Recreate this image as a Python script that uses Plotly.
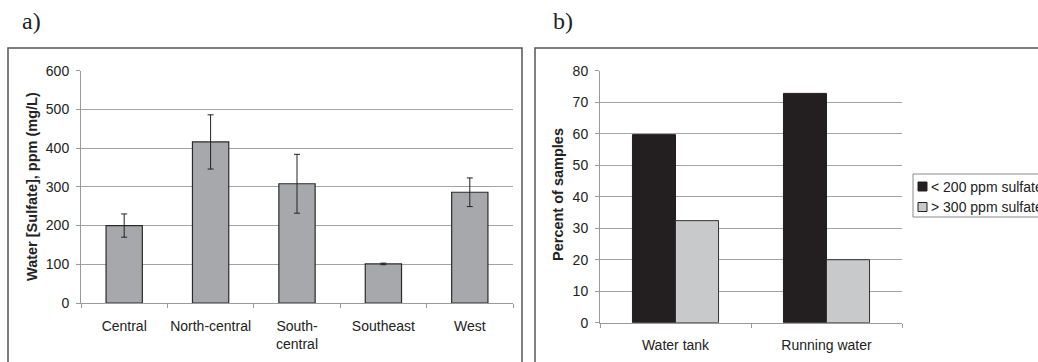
import plotly.graph_objects as go

# Panel a data
regions = ["Central", "North-central", "South-<br>central", "Southeast", "West"]
sulfate = [200, 416, 308, 101, 286]
sulfate_err = [30, 70, 76, 2, 37]

# Panel b data
sources = ["Water tank", "Running water"]
low_pct = [59.7, 72.8]
high_pct = [32.4, 20.0]
series_names = ["< 200 ppm sulfate", "> 300 ppm sulfate"]

W, H = 1038, 362
FONT = "Liberation Sans, Arial, sans-serif"
SERIF = "Liberation Serif, Times New Roman, serif"
COL_A = "#a7a8ab"
COL_LOW = "#231f20"
COL_HIGH = "#c8c9cb"

def px(x):
    return x / W

def py(y):
    return 1 - y / H

fig = go.Figure()

fig.add_trace(go.Bar(
    x=regions, y=sulfate, width=0.42,
    marker=dict(color=COL_A, line=dict(color="#2b2b2b", width=1.2)),
    error_y=dict(type="data", array=sulfate_err, color="#222", thickness=1, width=3),
    xaxis="x", yaxis="y", showlegend=False,
))

fig.add_trace(go.Bar(
    x=sources, y=low_pct, name=series_names[0],
    marker=dict(color=COL_LOW, line=dict(color=COL_LOW, width=1)),
    xaxis="x2", yaxis="y2", showlegend=False,
))
fig.add_trace(go.Bar(
    x=sources, y=high_pct, name=series_names[1],
    marker=dict(color=COL_HIGH, line=dict(color="#333", width=1)),
    xaxis="x2", yaxis="y2", showlegend=False,
))

grid = "#a3a3a3"
axis_common = dict(
    showline=True, linecolor="#9a9a9a", linewidth=1, automargin=False,
    tickfont=dict(family=FONT, size=14, color="#222"),
    ticks="outside", ticklen=4, tickcolor="#9a9a9a",
)

fig.update_layout(
    width=W, height=H, autosize=False,
    margin=dict(l=0, r=0, t=0, b=0, pad=0),
    paper_bgcolor="white", plot_bgcolor="white",
    barmode="group", bargap=0.43, bargroupgap=0,
    font=dict(family=FONT, size=14, color="#222"),
    xaxis=dict(domain=[px(81), px(513)], anchor="y", type="category",
               tickson="boundaries", tickangle=0, ticklabelstandoff=10, **axis_common),
    yaxis=dict(domain=[py(303), py(70.7)], anchor="x", range=[0, 600],
               tickvals=[0, 100, 200, 300, 400, 500, 600],
               showgrid=True, gridcolor=grid, gridwidth=1, zeroline=False,
               ticklabelstandoff=4, **axis_common),
    xaxis2=dict(domain=[px(600), px(902)], anchor="y2", type="category",
                tickson="boundaries", tickangle=0, ticklabelstandoff=9, **axis_common),
    yaxis2=dict(domain=[py(322.7), py(70.7)], anchor="x2", range=[0, 80],
                tickvals=[0, 10, 20, 30, 40, 50, 60, 70, 80],
                showgrid=True, gridcolor=grid, gridwidth=1, zeroline=False,
                ticklabelstandoff=4, **axis_common),
)

# Panel frames
for x0, x1 in [(8, 522), (535, 1045)]:
    fig.add_shape(type="rect", xref="paper", yref="paper",
                  x0=px(x0), x1=px(x1), y0=py(370), y1=py(48),
                  line=dict(color="#555", width=1.5), fillcolor="rgba(0,0,0,0)")

# Legend (box, swatches, labels)
fig.add_shape(type="rect", xref="paper", yref="paper",
              x0=px(913), x1=px(1050), y0=py(217), y1=py(174),
              line=dict(color="#8a8a8a", width=1), fillcolor="white")
for i, (name, col) in enumerate(zip(series_names, [COL_LOW, COL_HIGH])):
    yc = 186.5 + i * 20.5
    fig.add_shape(type="rect", xref="paper", yref="paper",
                  x0=px(918), x1=px(927), y0=py(yc + 4.5), y1=py(yc - 4.5),
                  line=dict(color="#222", width=1), fillcolor=col)
    fig.add_annotation(text=name, xref="paper", yref="paper",
                       x=px(929), y=py(yc), xanchor="left", yanchor="middle",
                       showarrow=False, font=dict(family=FONT, size=14, color="#222"))

# Panel letters
fig.add_annotation(text="a)", xref="paper", yref="paper", x=px(20), y=py(21),
                   xanchor="left", yanchor="middle", showarrow=False,
                   font=dict(family=SERIF, size=24, color="#222"))
fig.add_annotation(text="b)", xref="paper", yref="paper", x=px(551), y=py(21),
                   xanchor="left", yanchor="middle", showarrow=False,
                   font=dict(family=SERIF, size=24, color="#222"))

# Axis titles
fig.add_annotation(text="<b>Water [Sulfate], ppm (mg/L)</b>", xref="paper", yref="paper",
                   x=px(32), y=py(187), textangle=-90, showarrow=False,
                   xanchor="center", yanchor="middle",
                   font=dict(family=FONT, size=14.5, color="#222"))
fig.add_annotation(text="<b>Percent of samples</b>", xref="paper", yref="paper",
                   x=px(558), y=py(195), textangle=-90, showarrow=False,
                   xanchor="center", yanchor="middle",
                   font=dict(family=FONT, size=14.5, color="#222"))

fig.write_html(
    "out.html",
    config={"displayModeBar": False},
    post_script="document.body.style.margin='0';document.body.style.overflow='hidden';",
)
